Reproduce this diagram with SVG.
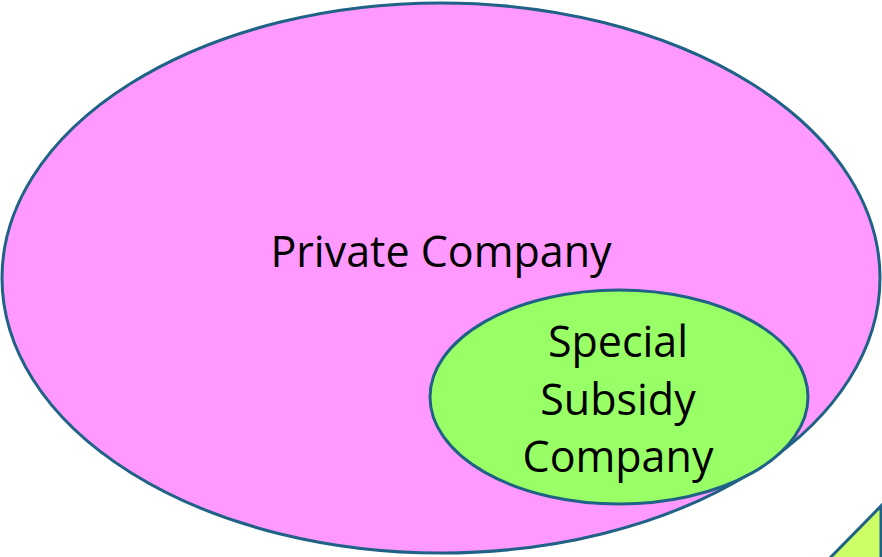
<svg xmlns="http://www.w3.org/2000/svg" width="882" height="557" viewBox="0 0 882 557">
<style>
.st{stroke:#1F6286;stroke-width:3}
.t{font-family:"Open Sans","Noto Sans",sans-serif;font-size:43px;fill:#000;text-anchor:middle}
</style>
<rect width="882" height="557" fill="#fff"/>
<g id="private">
<ellipse class="st" cx="441" cy="278" rx="439" ry="275" fill="#FF99FF"/>
<text class="t" x="441" y="267">Private Company</text>
</g>
<g id="special">
<ellipse class="st" cx="619" cy="397" rx="189" ry="107" fill="#99FF66"/>
<text class="t" x="618" y="357">Special</text>
<text class="t" x="618" y="415">Subsidy</text>
<text class="t" x="618" y="472">Company</text>
</g>
<g id="corner">
<polygon class="st" points="881,506 881,559 829,559" fill="#CCFF66"/>
</g>
<g id="connectors"/>
</svg>
